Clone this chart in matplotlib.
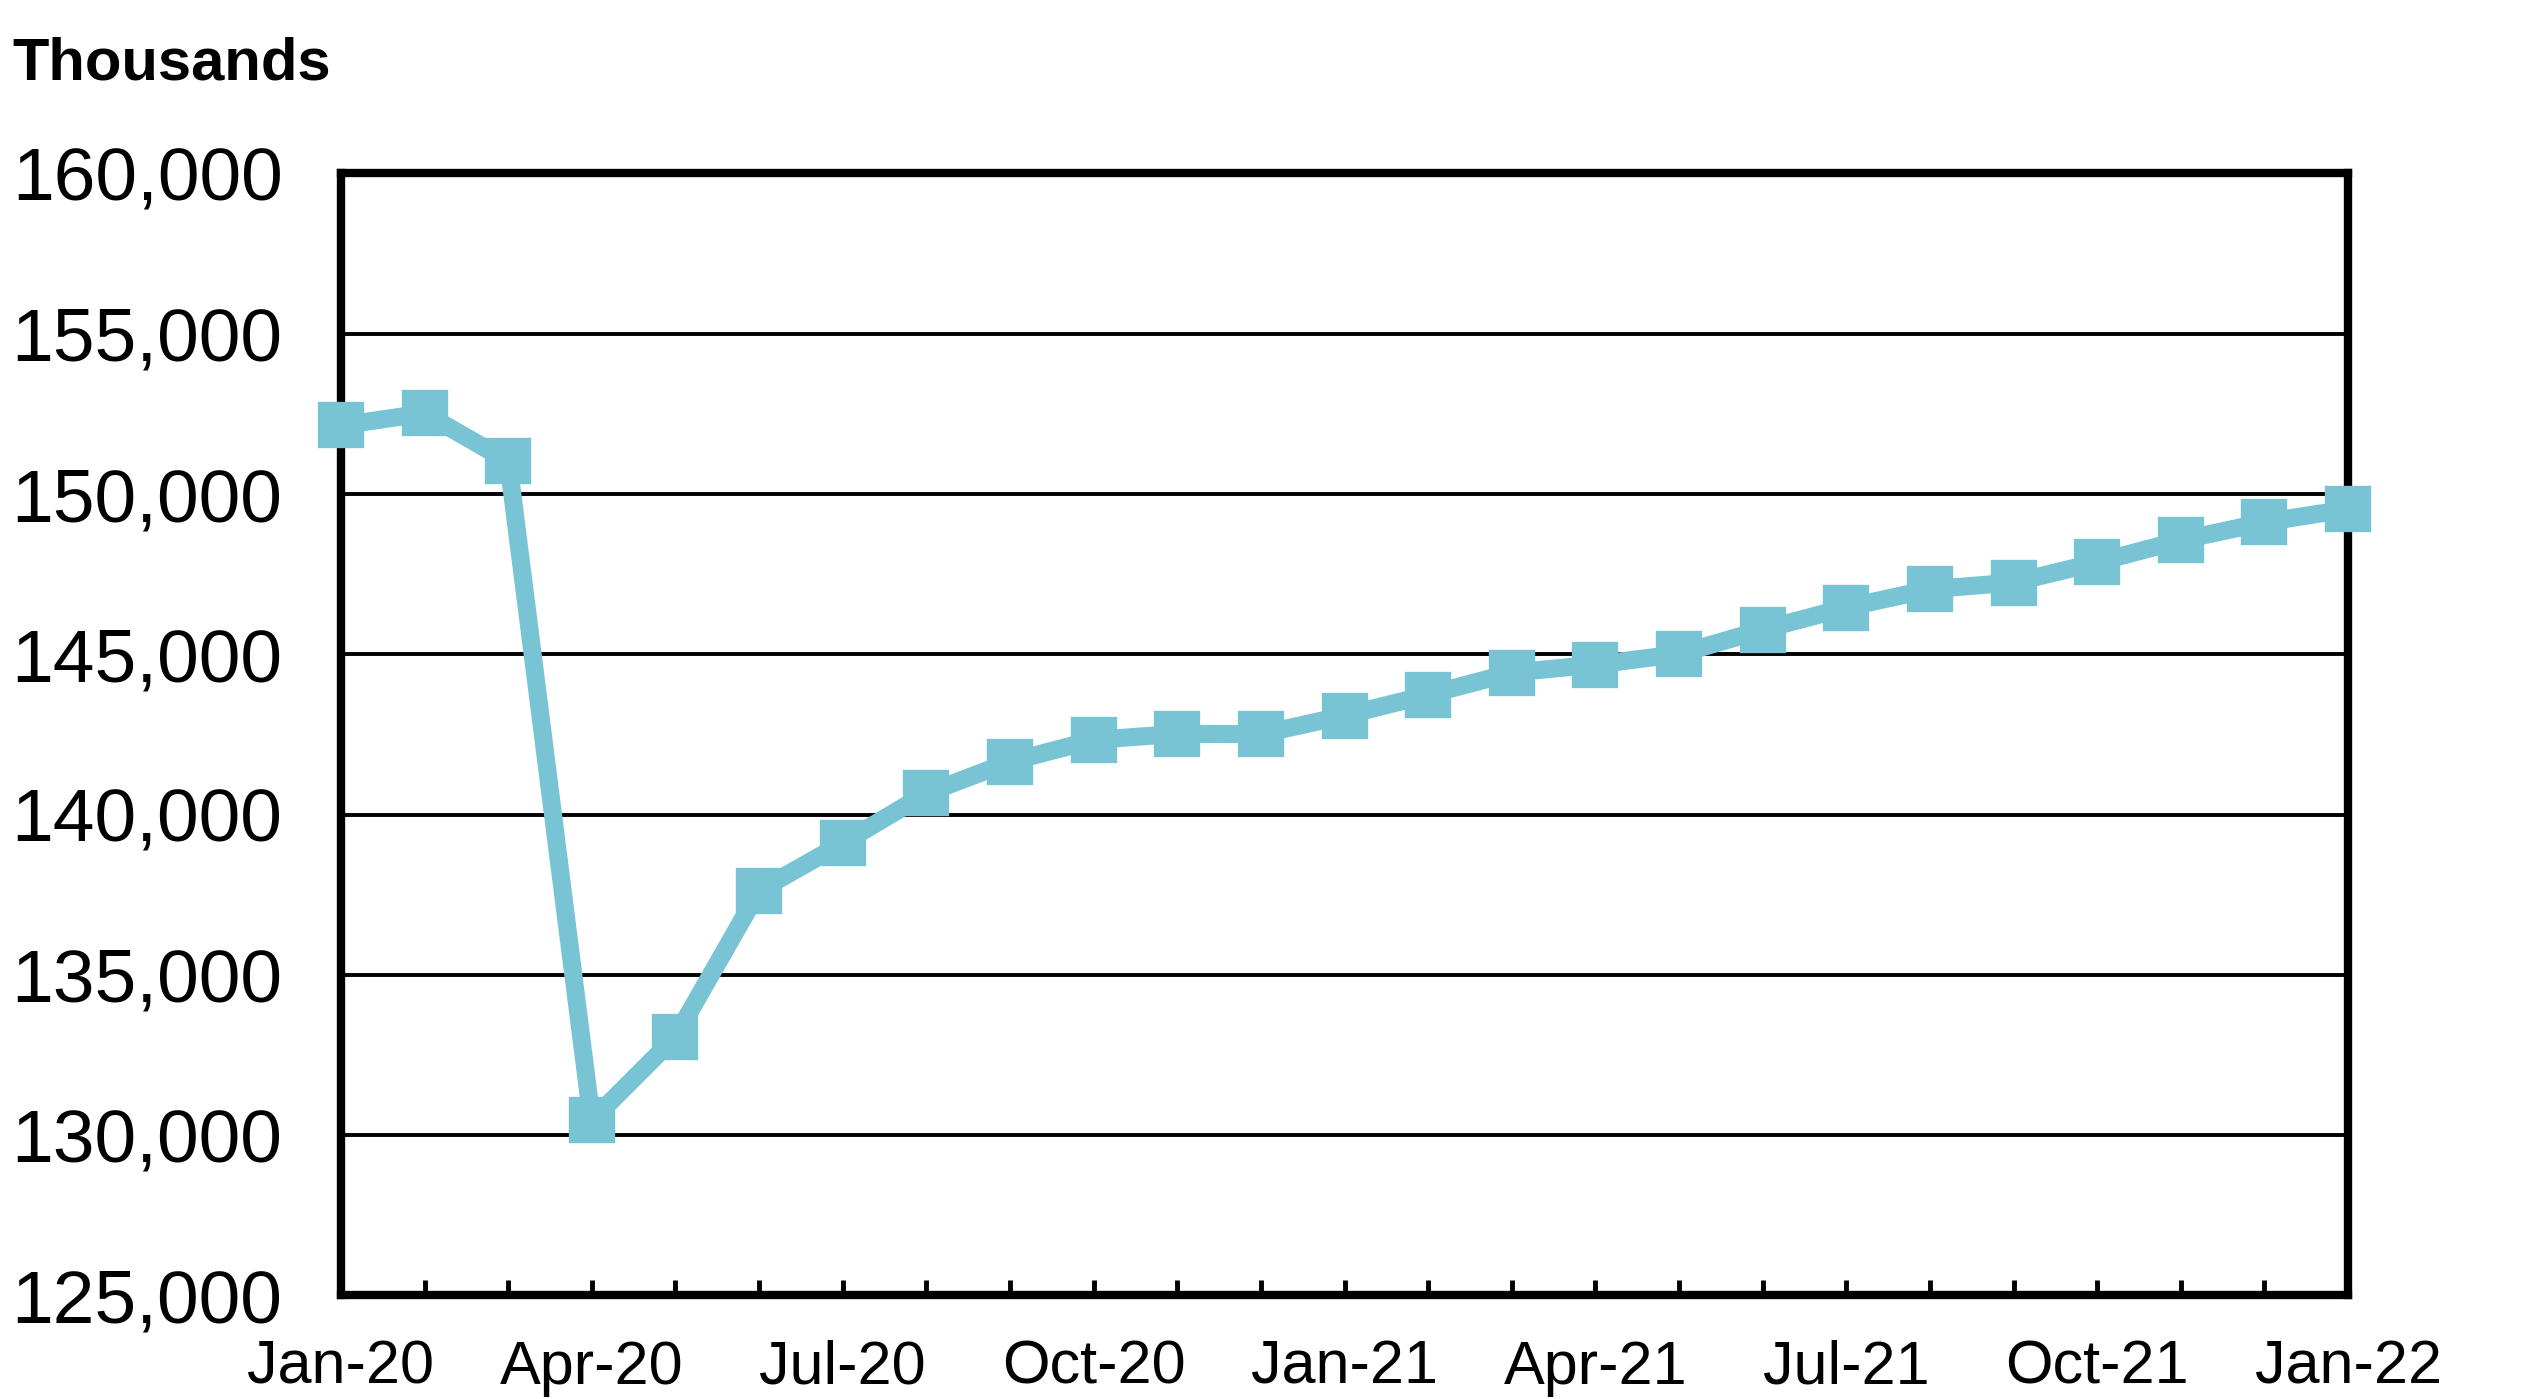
import matplotlib.pyplot as plt
import numpy as np

# Datos (miles de personas)
months = ['Jan-20', 'Feb-20', 'Mar-20', 'Apr-20', 'May-20', 'Jun-20', 'Jul-20',
          'Aug-20', 'Sep-20', 'Oct-20', 'Nov-20', 'Dec-20', 'Jan-21', 'Feb-21',
          'Mar-21', 'Apr-21', 'May-21', 'Jun-21', 'Jul-21', 'Aug-21', 'Sep-21',
          'Oct-21', 'Nov-21', 'Dec-21', 'Jan-22']
values = [152140, 152520, 151020, 130460, 133070, 137630, 139110,
          140660, 141650, 142330, 142520, 142510, 143090, 143740,
          144430, 144680, 145010, 145770, 146460, 147030, 147240,
          147870, 148560, 149120, 149530]
y_ticks = [125000, 130000, 135000, 140000, 145000, 150000, 155000, 160000]
x_labeled = ['Jan-20', 'Apr-20', 'Jul-20', 'Oct-20', 'Jan-21', 'Apr-21',
             'Jul-21', 'Oct-21', 'Jan-22']

color = '#78C4D4'

fig = plt.figure(figsize=(25.44, 13.99), dpi=100)
ax = fig.add_axes([0.134, 0.074, 0.789, 0.802])

x = np.arange(len(months))
ax.plot(x, values, color=color, linewidth=13, marker='s', markersize=27,
        markerfacecolor=color, markeredgecolor=color, markeredgewidth=6,
        solid_joinstyle='round', zorder=3, clip_on=False)

ax.set_ylim(125000, 160000)
ax.set_xlim(0, len(months) - 1)
ax.set_yticks(y_ticks)
ax.set_yticklabels([f'{v:,}' for v in y_ticks], fontsize=54,
                   family=['Liberation Sans', 'DejaVu Sans'])
ax.tick_params(axis='y', length=0, pad=42)

ax.set_xticks(x)
ax.set_xticklabels([m if m in x_labeled else '' for m in months], fontsize=44,
                   family=['Liberation Sans Narrow', 'Liberation Sans', 'DejaVu Sans'])
ax.tick_params(axis='x', direction='in', length=11, width=3.5, pad=32)

for y in y_ticks[1:-1]:
    ax.axhline(y, color='black', linewidth=2.8, zorder=1)

for s in ax.spines.values():
    s.set_linewidth(6)
    s.set_color('black')

fig.text(0.005, 0.954, 'Thousands', fontsize=43, fontweight='bold',
         family=['Liberation Sans', 'DejaVu Sans'], va='center', ha='left')

plt.savefig('out.png', dpi=100)
